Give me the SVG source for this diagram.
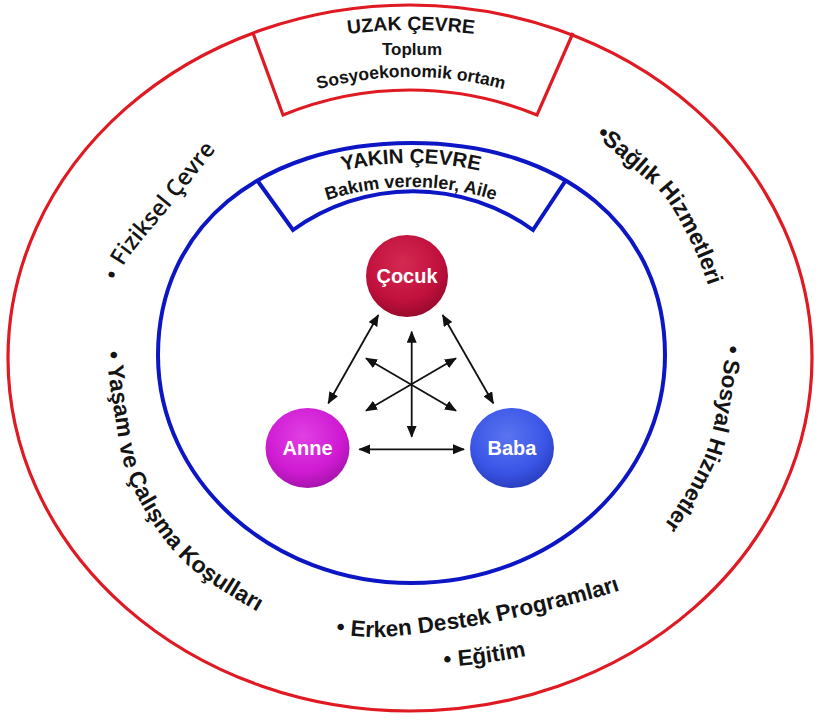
<svg xmlns="http://www.w3.org/2000/svg" width="818" height="720" viewBox="0 0 818 720">
<style>
.red{fill:none;stroke:#e01a22;stroke-width:3.2;stroke-linejoin:miter}
.blue{fill:none;stroke:#0c16c4;stroke-width:4;stroke-linejoin:miter}
.t{font-family:"Liberation Sans",Arial,sans-serif;font-weight:bold;fill:#141414}
.ring{font-size:22.5px}
.nl{font-family:"Liberation Sans",Arial,sans-serif;font-weight:bold;font-size:20px;fill:#ffffff;text-anchor:middle}
.arr{fill:none;stroke:#111;stroke-width:1.8;marker-start:url(#ah);marker-end:url(#ah)}
</style>
<defs>
<marker id="ah" viewBox="0 0 12 10" refX="11" refY="5" markerWidth="12" markerHeight="10" markerUnits="userSpaceOnUse" orient="auto-start-reverse">
<path d="M0,0 L12,5 L0,10 Z" fill="#111"/>
</marker>
<radialGradient id="gC" cx="45%" cy="35%" r="65%">
<stop offset="0" stop-color="#d42a52"/><stop offset="0.7" stop-color="#c0103c"/><stop offset="1" stop-color="#9a0a2e"/>
</radialGradient>
<radialGradient id="gA" cx="45%" cy="35%" r="65%">
<stop offset="0" stop-color="#e040e4"/><stop offset="0.7" stop-color="#cf1ad2"/><stop offset="1" stop-color="#a814ad"/>
</radialGradient>
<radialGradient id="gB" cx="45%" cy="35%" r="65%">
<stop offset="0" stop-color="#5a74f0"/><stop offset="0.7" stop-color="#3a55e6"/><stop offset="1" stop-color="#2a3fc0"/>
</radialGradient>
<path id="pUzak" d="M261,52.6 A510,510 0 0 1 561,52.6"/>
<path id="pSosyo" d="M211,139 A353,353 0 0 1 611,139"/>
<path id="pYakin" d="M261,202.3 A306,306 0 0 1 561,202.3"/>
<path id="pBakim" d="M261,232.5 A270,270 0 0 1 561,232.5"/>
<path id="pFiz" d="M118.5,280.5 C120.2,276.6 119.6,269.9 128.8,256.9 C138,243.9 158.6,220.8 173.5,202.4 C188.5,184 204.1,164.3 218.5,146.4 C232.9,128.5 253.1,103.6 260,95"/>
<path id="pSag" d="M595.4,135.7 C602.05,141.45 623.5,159.6 635.3,170.2 C647.1,180.8 656.7,186.3 666.4,199.2 C676.1,212.2 686.5,232.9 693.7,247.9 C700.9,262.9 704.3,275 709.5,289.5 C714.7,304 722.4,327.4 725,335"/>
<path id="pSos" d="M725.9,345 C724.9,353.4 722.7,378.8 719.8,395.6 C716.9,412.4 712.7,431.8 708.4,445.6 C704.1,459.4 699.3,467.8 693.9,478.2 C688.5,488.6 684.8,494.3 675.8,507.9 C666.8,521.5 646,551.3 640,560"/>
<path id="pYas" d="M105.8,352 C107.2,361.9 110,389.6 114.1,411.4 C118.2,433.2 119.6,458.4 130.6,482.8 C141.6,507.2 159.1,536.6 180,557.9 C200.9,579.2 231,596.2 256,610.7 C281,625.2 317.7,639.2 330,645"/>
<path id="pErk" d="M336,634 C343.7,634.5 364,637.7 382,637 C400,636.3 423.9,632.8 444,630 C464.1,627.3 474.6,626.7 502.5,620.5 C530.5,614.3 582.1,602.3 611.7,593 C641.3,583.8 668.6,569.7 680,565"/>
<path id="pEgi" d="M444,667 Q490,664 530,655 L580,641"/>
</defs>
<rect width="818" height="720" fill="#ffffff"/>
<g id="uzak-cevre">
<ellipse cx="410" cy="358" rx="402" ry="353" fill="#fde4ec" class="red"/>
<path d="M253,33 L283,115 A335,335 0 0 1 537,115 L573,33" class="red"/>
<text class="t" font-size="19.5" text-anchor="middle"><textPath href="#pUzak" startOffset="50%">UZAK ÇEVRE</textPath></text>
<text class="t" font-size="17" x="412" y="55" text-anchor="middle">Toplum</text>
<text class="t" font-size="17.5" text-anchor="middle"><textPath href="#pSosyo" startOffset="50%">Sosyoekonomik ortam</textPath></text>
</g>
<g id="ring-labels">
<text class="t" style="font-family:'Open Sans','Liberation Sans',sans-serif;font-weight:600" font-size="23"><textPath href="#pFiz">• Fiziksel Çevre</textPath></text>
<text class="t" font-size="23"><textPath href="#pSag">•Sağlık Hizmetleri</textPath></text>
<text class="t ring"><textPath href="#pSos">• Sosyal Hizmetler</textPath></text>
<text class="t" font-size="23"><textPath href="#pYas">• Yaşam ve Çalışma Koşulları</textPath></text>
<text class="t ring"><textPath href="#pErk">• Erken Destek Programları</textPath></text>
<text class="t ring"><textPath href="#pEgi">• Eğitim</textPath></text>
</g>
<g id="yakin-cevre">
<path d="M158,355 C158,227.8 259.4,143 411.5,143 C563.6,143 665,227.8 665,355 C665,480.9 551.5,583 411.5,583 C271.5,583 158,480.9 158,355 Z" fill="#e6e7fb" class="blue"/>
<path d="M257,180 L293,230 A205,205 0 0 1 533,230 L566,180" class="blue"/>
<text class="t" font-size="20.5" text-anchor="middle"><textPath href="#pYakin" startOffset="50%">YAKIN ÇEVRE</textPath></text>
<text class="t" font-size="18" text-anchor="middle"><textPath href="#pBakim" startOffset="50%">Bakım verenler, Aile</textPath></text>
</g>
<g id="connectors">
<line class="arr" x1="378.3" y1="315" x2="328.3" y2="403.3"/>
<line class="arr" x1="442.7" y1="315" x2="493.3" y2="403.3"/>
<line class="arr" x1="359.3" y1="449.3" x2="464" y2="449.3"/>
<line class="arr" x1="411.7" y1="331.7" x2="411.7" y2="436.7"/>
<line class="arr" x1="366" y1="358.3" x2="456" y2="410.7"/>
<line class="arr" x1="456" y1="358.3" x2="366" y2="410.7"/>
</g>
<g id="cocuk">
<circle cx="407" cy="276" r="41" fill="url(#gC)"/>
<text class="nl" x="407" y="283">Çocuk</text>
</g>
<g id="anne">
<ellipse cx="307.5" cy="448" rx="42" ry="40" fill="url(#gA)"/>
<text class="nl" x="307.5" y="455">Anne</text>
</g>
<g id="baba">
<ellipse cx="512" cy="448" rx="42" ry="40" fill="url(#gB)"/>
<text class="nl" x="512" y="455">Baba</text>
</g>
</svg>
